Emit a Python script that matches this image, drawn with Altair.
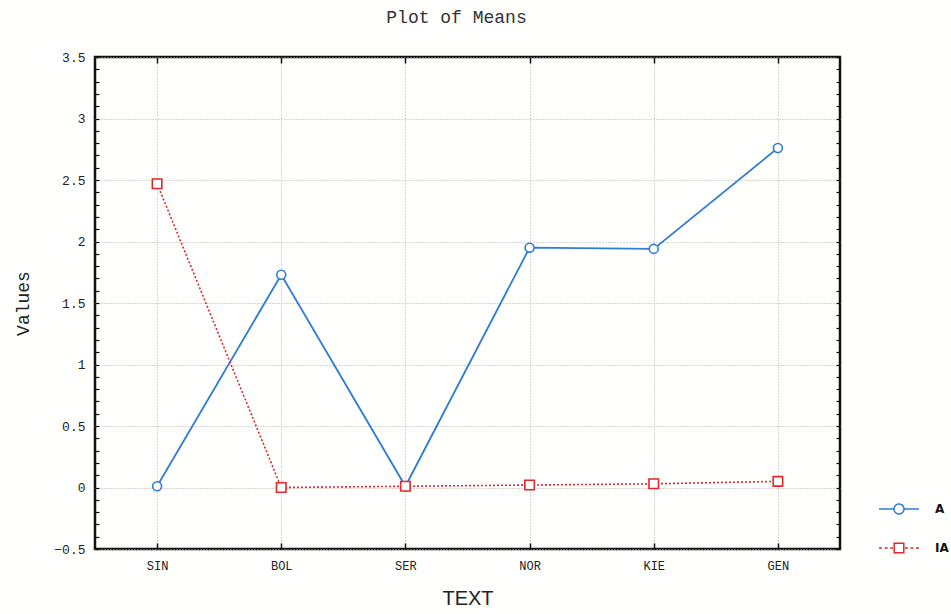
import altair as alt
import pandas as pd

categories = ["SIN", "BOL", "SER", "NOR", "KIE", "GEN"]
series_names = ["A", "IA"]
values_a = [0.01, 1.73, 0.01, 1.95, 1.94, 2.76]
values_b = [2.47, 0.0, 0.01, 0.02, 0.03, 0.05]
y_ticks = [-0.5, 0, 0.5, 1, 1.5, 2, 2.5, 3, 3.5]
minor_ticks = [round(-0.5 + 0.1 * i, 1) for i in range(41)]

rows = []
for c, v in zip(categories, values_a):
    rows.append({"TEXT": c, "Values": v, "series": series_names[0]})
for c, v in zip(categories, values_b):
    rows.append({"TEXT": c, "Values": v, "series": series_names[1]})
df = pd.DataFrame(rows)

blue = "#2f7bd6"
red = "#e5262a"
mono = "Liberation Mono"
ydom = [-0.5, 3.5]

circ_path = ("M-1,0L-0.25,0M0.25,0L1,0M0.25,0A0.25,0.25,0,1,1,-0.25,0"
             "A0.25,0.25,0,1,1,0.25,0")
sq_path = ("M-1,0L-0.85,0M-0.72,0L-0.57,0M-0.44,0L-0.3,0"
           "M-0.24,-0.24L0.24,-0.24L0.24,0.24L-0.24,0.24Z"
           "M0.3,0L0.44,0M0.57,0L0.72,0M0.85,0L1,0")

color_scale = alt.Scale(domain=series_names, range=[blue, red])

x_main = alt.X(
    "TEXT:N", sort=categories,
    scale=alt.Scale(type="point", padding=0.5),
    axis=alt.Axis(title="TEXT", grid=True, gridDash=[1, 2], gridColor="#aaa",
                  gridWidth=1, ticks=False, domain=False, labelAngle=0,
                  labelFont=mono, labelFontSize=12, labelColor="#222",
                  labelPadding=11, titleFont="Liberation Sans",
                  titleFontSize=20, titleFontWeight="normal",
                  titleColor="#222", titlePadding=17),
)
y_main = alt.Y(
    "Values:Q", scale=alt.Scale(domain=ydom, nice=False, zero=False),
    axis=alt.Axis(title="Values", values=y_ticks, format="~g", grid=True,
                  gridDash=[1, 2], gridColor="#aaa", gridWidth=1, ticks=False,
                  domain=False, labelFont=mono, labelFontSize=13,
                  labelColor="#222", labelPadding=10, titleFont=mono,
                  titleFontSize=18, titleFontWeight="normal",
                  titleColor="#222", titlePadding=21),
)

legend = alt.Legend(
    title=None, orient="none", legendX=783, legendY=431, padding=0,
    symbolSize=1600, symbolStrokeWidth=1.5, rowPadding=10, symbolOpacity=1,
    symbolFillColor="transparent", symbolDash=[1, 0],
    labelFont="DejaVu Sans", labelFontSize=12, labelFontWeight="bold",
    labelColor="#111", labelOffset=15,
)
color_enc = alt.Color("series:N", scale=color_scale, legend=legend)

line_a = alt.Chart(df).transform_filter(
    alt.datum.series == series_names[0]
).mark_line(strokeWidth=1.8).encode(x=x_main, y=y_main, color=color_enc)
line_b = alt.Chart(df).transform_filter(
    alt.datum.series == series_names[1]
).mark_line(strokeWidth=1.6, strokeDash=[2, 2]).encode(
    x=x_main, y=y_main, color=color_enc)
pts_a = alt.Chart(df).transform_filter(
    alt.datum.series == series_names[0]
).mark_point(shape="circle", filled=False, fill="white", strokeWidth=1.6,
             size=80, opacity=1).encode(x=x_main, y=y_main, color=color_enc)
pts_b = alt.Chart(df).transform_filter(
    alt.datum.series == series_names[1]
).mark_point(shape="square", filled=False, fill="white", strokeWidth=1.6,
             size=90, opacity=1).encode(x=x_main, y=y_main, color=color_enc)
legend_layer = alt.Chart(df).mark_point(opacity=0, filled=False).encode(
    x=x_main, y=y_main, color=color_enc,
    shape=alt.Shape("series:N", scale=alt.Scale(
        domain=series_names, range=[circ_path, sq_path]), legend=legend),
)
main = alt.layer(line_a, line_b, pts_a, pts_b, legend_layer)


def tick_layer(xo, yo):
    return alt.Chart(df).mark_point(opacity=0).encode(
        x=alt.X("TEXT:N", sort=categories,
                scale=alt.Scale(type="point", padding=0.5),
                axis=alt.Axis(orient=xo, offset=-6, tickSize=6, labels=False,
                              domain=False, grid=False, title=None,
                              tickColor="#111", tickWidth=1.5)),
        y=alt.Y("Values:Q", scale=alt.Scale(domain=ydom, nice=False, zero=False),
                axis=alt.Axis(orient=yo, offset=-4, tickSize=4,
                              values=minor_ticks, labels=False, domain=False,
                              grid=False, title=None, tickColor="#111",
                              tickWidth=1.2)),
    )


chart = alt.layer(main, tick_layer("bottom", "left"),
                  tick_layer("top", "right")).resolve_scale(
    x="independent", y="independent"
).properties(
    width=745, height=492,
    title=alt.Title("Plot of Means", font=mono, fontSize=18,
                    fontWeight="normal", color="#333", offset=24, dx=-11),
    autosize=alt.AutoSizeParams(type="none"),
    padding={"left": 95, "top": 57, "right": 111, "bottom": 65},
    background="#fffffd",
).configure_view(stroke="#111", strokeWidth=2.5)

chart.save("out.html", embed_options={"renderer": "svg", "actions": False})
